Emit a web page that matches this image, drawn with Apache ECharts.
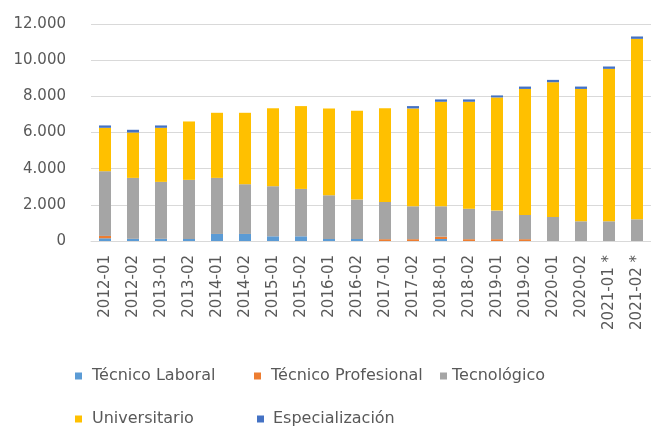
<!DOCTYPE html>
<html><head><meta charset="utf-8">
<script src="https://cdn.jsdelivr.net/npm/echarts@6/dist/echarts.min.js"></script>
<style>html,body{margin:0;padding:0;background:#fff}#c{width:651px;height:427px}</style>
</head><body><div id="c"></div>
<script>
const categories = ["2012-01","2012-02","2013-01","2013-02","2014-01","2014-02","2015-01","2015-02","2016-01","2016-02","2017-01","2017-02","2018-01","2018-02","2019-01","2019-02","2020-01","2020-02","2021-01 *","2021-02 *"];
const tecnicoLaboral = [150,120,120,110,390,390,260,260,110,110,0,0,110,0,0,0,0,0,0,0];
const tecnicoProfesional = [130,0,0,0,0,0,0,0,0,0,100,100,130,100,100,100,0,0,0,0];
const tecnologico = [3580,3370,3150,3270,3100,2750,2770,2620,2420,2180,2060,1820,1680,1690,1580,1340,1330,1090,1090,1200];
const universitario = [2400,2510,2990,3230,3600,3950,4310,4580,4800,4910,5180,5410,5780,5910,6260,6970,7450,7320,8430,9980];
const especializacion = [130,150,130,0,0,0,0,0,0,0,0,130,130,130,110,130,130,130,130,130];
const yTicks = [0,2000,4000,6000,8000,10000,12000];

const names = ["Técnico Laboral","Técnico Profesional","Tecnológico","Universitario","Especialización"];
const colors = ["#5B9BD5","#ED7D31","#A5A5A5","#FFC000","#4472C4"];
const dataSets = [tecnicoLaboral,tecnicoProfesional,tecnologico,universitario,especializacion];
const font = "DejaVu Sans, sans-serif";
const legendPos = [[75,368,5],[254,368,5],[440,368,0],[75,411,5],[257,411,4]];

const chart = echarts.init(document.getElementById('c'), null, {renderer:'canvas'});
chart.setOption({
  animation:false,
  color: colors,
  grid:{left:91,right:-5,top:24,bottom:186,containLabel:false},
  legend: names.map((n,i)=>({
    data:[n], left:legendPos[i][0], top:legendPos[i][1], padding:0,
    itemWidth:7, itemHeight:7, icon:'rect', itemGap:0,
    textStyle:{color:'#595959', fontSize:16, fontFamily:font, padding:[0,0,0,legendPos[i][2]]}
  })),
  xAxis:{
    type:'category', data:categories,
    axisLine:{show:true,lineStyle:{color:'#d9d9d9',width:1}},
    axisTick:{show:false},
    axisLabel:{rotate:90, color:'#595959', fontSize:15, fontFamily:font, margin:14, interval:0}
  },
  yAxis:{
    type:'value', min:0, max:12000, interval:2000,
    axisLine:{show:false}, axisTick:{show:false},
    splitLine:{lineStyle:{color:'#d9d9d9',width:1}},
    axisLabel:{color:'#595959', fontSize:15, fontFamily:font, margin:25,
      formatter:v=>yTicks.includes(v)? v.toLocaleString('de-DE'):''}
  },
  series: names.map((n,i)=>({
    name:n, type:'bar', stack:'total', barWidth:12, data:dataSets[i],
    itemStyle:{color:colors[i]}
  }))
});
</script></body></html>
